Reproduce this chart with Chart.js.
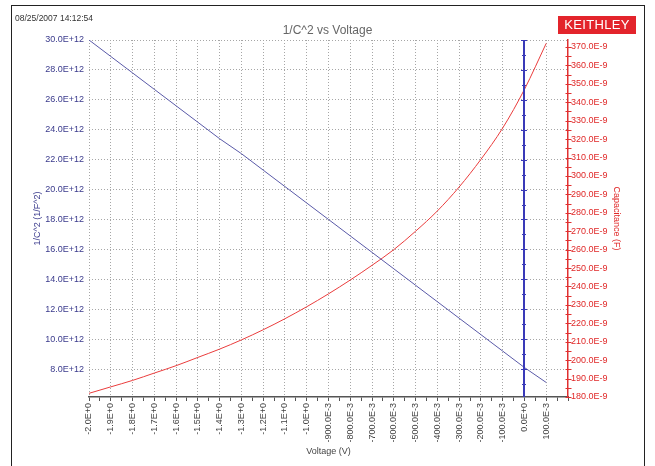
<!DOCTYPE html>
<html>
<head>
<meta charset="utf-8">
<script src="https://cdn.jsdelivr.net/npm/chart.js@4"></script>
<style>
  body { margin: 0; background: #fff; font-family: "Liberation Sans", Arial, sans-serif; }
  #wrap { position: relative; width: 655px; height: 466px; }
  #frame { position: absolute; left: 11px; top: 5px; width: 634px; height: 470px; border: 1.5px solid #222; box-sizing: border-box; }
  #stamp { position: absolute; left: 15px; top: 13px; font-size: 8.5px; color: #333; }
  #logo { position: absolute; left: 558px; top: 16px; width: 78px; height: 18px; background: #e3242b; color: #fff;
          font-size: 13px; line-height: 18px; text-align: center; letter-spacing: 0.3px; }
  #title { position: absolute; left: 0; width: 655px; top: 23px; text-align: center; font-size: 12px; color: #666; }
  canvas { position: absolute; left: 0; top: 0; }
</style>
</head>
<body>
<div id="wrap">
  <canvas id="chart" width="655" height="466"></canvas>
  <div id="frame"></div>
  <div id="stamp">08/25/2007 14:12:54</div>
  <div id="title">1/C^2 vs Voltage</div>
  <div id="logo">KEITHLEY</div>
</div>
<script>
// Voltage sweep (V)
const voltage = [-2.0, -1.9, -1.8, -1.7, -1.6, -1.5, -1.4, -1.3, -1.2, -1.1, -1.0,
  -0.9, -0.8, -0.7, -0.6, -0.5, -0.4, -0.3, -0.2, -0.1, 0.0, 0.1];
// 1/C^2 (1/F^2)
const invC2 = [30.0e12, 28.9e12, 27.8e12, 26.7e12, 25.6e12, 24.5e12, 23.4e12, 22.4e12, 21.3e12, 20.2e12, 19.1e12,
  18.0e12, 16.9e12, 15.8e12, 14.7e12, 13.6e12, 12.5e12, 11.4e12, 10.3e12, 9.2e12, 8.1e12, 7.1e12];
// Capacitance (F)
const capacitance = [182e-9, 185.5e-9, 189e-9, 193e-9, 197e-9, 201.5e-9, 206e-9, 211e-9, 216.5e-9, 222.5e-9, 229e-9,
  236e-9, 243.5e-9, 251.5e-9, 260e-9, 270e-9, 281e-9, 294e-9, 309e-9, 326e-9, 347e-9, 372e-9];

const FONT = "'Liberation Sans', Arial, sans-serif";

// engineering notation like 370.0E-9 / -1.9E+0
function eng(v) {
  if (Math.abs(v) < 1e-30) return "0.0E+0";
  let exp = Math.floor(Math.log10(Math.abs(v)) / 3) * 3;
  let m = v / Math.pow(10, exp);
  if (Math.abs(m) >= 999.95) { exp += 3; m /= 1000; }
  return m.toFixed(1) + "E" + (exp >= 0 ? "+" : "-") + Math.abs(exp);
}

// blue vertical axis line at 0 V with its tick marks, red axis ticks
const zeroAxis = {
  id: "zeroAxis",
  afterDatasetsDraw(chart) {
    const { ctx, scales: { x, yL, yR } } = chart;
    const px = Math.round(x.getPixelForValue(0));
    ctx.save();
    ctx.strokeStyle = "#3a3ab8";
    ctx.lineWidth = 2;
    ctx.beginPath();
    ctx.moveTo(px, chart.chartArea.top);
    ctx.lineTo(px, chart.chartArea.bottom);
    ctx.stroke();
    ctx.lineWidth = 1;
    for (let v = 7; v <= 30; v++) {
      const py = Math.round(yL.getPixelForValue(v * 1e12)) + 0.5;
      const len = v % 2 === 0 ? 3 : 2;
      ctx.beginPath();
      ctx.moveTo(px - len, py);
      ctx.lineTo(px + len, py);
      ctx.stroke();
    }
    ctx.strokeStyle = "#e03030";
    const rx = Math.round(yR.left) + 0.5;
    for (let v = 180; v <= 370; v += 5) {
      const py = Math.round(yR.getPixelForValue(v * 1e-9)) + 0.5;
      ctx.beginPath();
      ctx.moveTo(rx - 3, py);
      ctx.lineTo(rx + 3, py);
      ctx.stroke();
    }
    ctx.restore();
  }
};

new Chart(document.getElementById("chart"), {
  type: "line",
  data: {
    datasets: [
      {
        label: "1/C^2",
        data: voltage.map((v, i) => ({ x: v, y: invC2[i] })),
        borderColor: "#5a5aa8",
        borderWidth: 1,
        pointRadius: 0,
        yAxisID: "yL",
      },
      {
        label: "Capacitance",
        data: voltage.map((v, i) => ({ x: v, y: capacitance[i] })),
        borderColor: "#ea3c3c",
        borderWidth: 1,
        pointRadius: 0,
        cubicInterpolationMode: "monotone",
        yAxisID: "yR",
      },
    ],
  },
  plugins: [zeroAxis],
  options: {
    responsive: false,
    animation: false,
    layout: { padding: { left: 30, right: 0, top: 40, bottom: 0 } },
    plugins: { legend: { display: false }, tooltip: { enabled: false } },
    scales: {
      x: {
        type: "linear",
        min: -2.0,
        max: 0.2,
        afterFit: (s) => { s.height = 69; },
        afterBuildTicks: (s) => {
          const t = [];
          for (let i = -40; i <= 4; i++) t.push({ value: i * 0.05 });
          s.ticks = t;
        },
        ticks: {
          autoSkip: false,
          minRotation: 90,
          maxRotation: 90,
          padding: 2,
          color: "#444",
          font: { family: FONT, size: 9 },
          callback: (v) => {
            const k = Math.round(v * 20);
            if (k % 2 !== 0 || k > 2) return "";
            return eng(Math.round(v * 10) / 10);
          },
        },
        grid: {
          color: (c) => {
            const k = Math.round(c.tick.value * 20);
            return k % 2 === 0 && k < 4 ? "#a6a6a6" : "rgba(0,0,0,0)";
          },
          tickColor: "#555",
          tickLength: 4,
          lineWidth: 1,
        },
        border: { display: true, color: "#555", width: 1.5, dash: [1, 2] },
        title: { display: true, text: "Voltage (V)", color: "#444", font: { family: FONT, size: 9 }, padding: { top: 0, bottom: 9 } },
      },
      yL: {
        type: "linear",
        position: "left",
        min: 6.13e12,
        max: 30e12,
        afterFit: (s) => { s.width = 59; },
        afterBuildTicks: (s) => {
          const t = [];
          for (let v = 8; v <= 30; v += 2) t.push({ value: v * 1e12 });
          s.ticks = t;
        },
        ticks: {
          color: "#3a3a8c",
          padding: 5,
          font: { family: FONT, size: 9 },
          callback: (v) => eng(v),
        },
        grid: { color: "#a6a6a6", drawTicks: false, lineWidth: 1 },
        border: { display: false, dash: [1, 2] },
        title: { display: true, text: "1/C^2 (1/F^2)", color: "#3a3a8c", font: { family: FONT, size: 9 }, padding: { top: 2, bottom: 0 } },
      },
      yR: {
        type: "linear",
        position: "right",
        min: 180e-9,
        max: 373.8e-9,
        afterFit: (s) => { s.width = 87; },
        afterBuildTicks: (s) => {
          const t = [];
          for (let v = 180; v <= 370; v += 10) t.push({ value: v * 1e-9 });
          s.ticks = t;
        },
        ticks: {
          color: "#e02828",
          padding: 3,
          font: { family: FONT, size: 9 },
          callback: (v) => eng(v),
        },
        grid: { drawOnChartArea: false, drawTicks: false },
        border: { display: true, color: "#e03030", width: 1.5 },
        title: { display: true, text: "Capacitance (F)", color: "#e02828", font: { family: FONT, size: 9 }, padding: { top: 33, bottom: 0 } },
      },
    },
  },
});
</script>
</body>
</html>
